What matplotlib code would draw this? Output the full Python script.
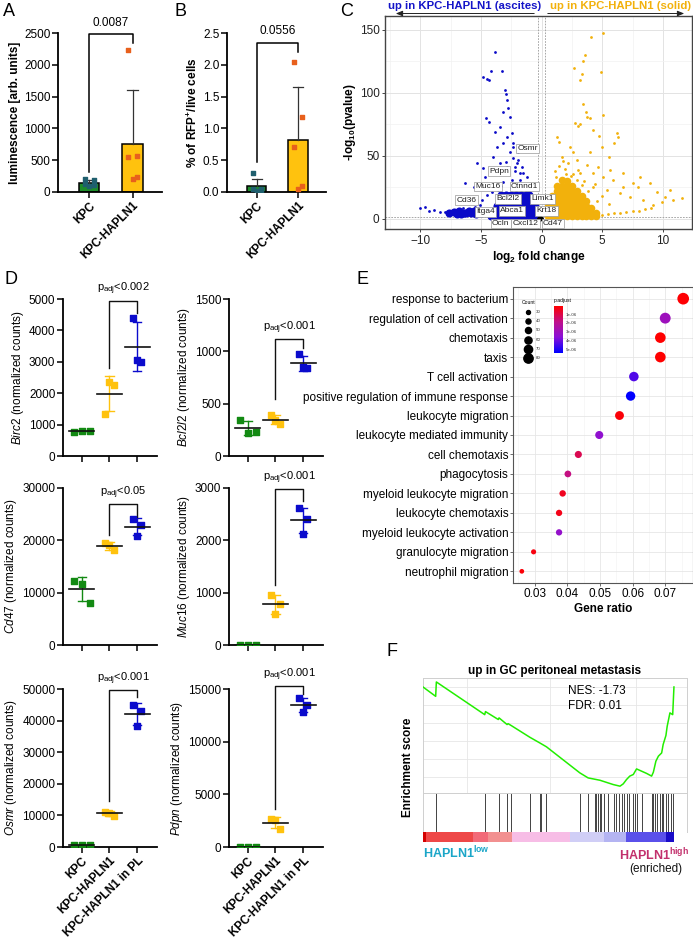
import numpy as np
import matplotlib
matplotlib.use("Agg")
import matplotlib.pyplot as plt
from matplotlib.colors import LinearSegmentedColormap, Normalize
from matplotlib.patches import FancyArrowPatch

plt.rcParams['font.family'] = ['Liberation Sans', 'DejaVu Sans']
plt.rcParams['mathtext.fontset'] = 'custom'
plt.rcParams['mathtext.rm'] = 'Liberation Sans'
plt.rcParams['mathtext.it'] = 'Liberation Sans:italic'
plt.rcParams['mathtext.bf'] = 'Liberation Sans:bold'
plt.rcParams['axes.linewidth'] = 1.0

W, H = 693, 940
FS = 8.5

# --- A: luminescence ---
a_groups = ["KPC", "KPC-HAPLN1"]
a_kpc = [200, 190, 120, 110, 90]
a_hap = [2230, 560, 550, 230, 200]
a_p = "0.0087"

# --- B: % RFP+ ---
b_kpc = [0.30, 0.05, 0.04, 0.03, 0.02]
b_hap = [2.04, 1.18, 0.71, 0.09, 0.05]
b_p = "0.0556"

# --- C: volcano ---
blue_x = [-3.84, -3.29, -4.19, -4.8, -4.47, -4.3, -3.01, -2.93, -4.6, -4.3, -2.87, -2.74, -3.15, -2.6,
          -3.42, -3.84, -2.46, -2.87, -3.15, -3.7, -2.32, -2.6, -1.91, -3.97, -5.29, -4.8, -3.42, -2.87,
          -2.19, -1.64, -1.5, -6.3, -5.6, -4.66, -3.97, -2.32, -2.05, -1.77, -2.74, -3.15, -2.46, -4.94,
          -4.53, -5.76, -10.0, -9.6, -9.3, -8.9, -8.4, -7.96, -7.27, -6.7, -6.45, -5.9, -5.5, -5.07,
          -2.1, -1.8, -1.3, -2.5, -3.6, -1.2, -2.2, -3.3, -1.6, -4.1, -2.9, -1.95, -2.35]
blue_y = [132.3, 117.7, 117.2, 112.4, 111.4, 110.3, 101.9, 99.2, 79.9, 77.2, 94.4, 87.8, 85.2, 81.2,
          73.3, 69.3, 68.0, 65.3, 60.0, 57.4, 60.0, 53.4, 53.4, 49.5, 44.2, 40.2, 44.2, 41.5,
          41.5, 41.5, 36.2, 28.3, 25.7, 33.6, 36.2, 48.1, 44.2, 36.2, 36.2, 29.6, 31.0, 15.1,
          19.0, 12.4, 8.5, 9.8, 6.6, 7.1, 5.8, 5.8, 6.3, 7.1, 8.5, 7.7, 9.3, 11.1,
          27.0, 30.5, 26.0, 24.5, 23.0, 33.0, 38.0, 26.5, 28.0, 21.0, 45.5, 47.0, 57.0]
# dense core of the ascites-up genes
blue_core_x = [-4.2, -3.8, -3.4, -3.0, -2.6, -2.2, -1.8, -1.4, -1.0, -0.6, -0.35,
               -4.0, -3.6, -3.2, -2.8, -2.4, -2.0, -1.6, -1.2, -0.8, -0.4,
               -3.7, -3.3, -2.9, -2.5, -2.1, -1.7, -1.3, -0.9, -0.5,
               -3.4, -3.0, -2.6, -2.2, -1.8, -1.4, -1.0,
               -3.3, -2.9, -2.5, -2.1, -1.7, -1.3, -1.0,
               -7.6, -7.2, -6.8, -6.4, -6.0, -5.6, -5.2, -4.8, -7.0, -6.6, -6.2, -5.8, -5.4, -5.0]
blue_core_y = [2, 2, 2, 2, 2, 2, 2, 2, 2, 2, 2,
               6, 6, 6, 6, 6, 6, 6, 6, 6, 6,
               10, 10, 10, 10, 10, 10, 10, 10, 10,
               14, 14, 14, 14, 14, 14, 14,
               19, 19, 19, 19, 19, 19, 19,
               5, 5.5, 6, 5, 6, 6.5, 6, 5.5, 4, 4, 4.5, 5, 4, 4.5]

yel_x = [5.1, 4.05, 3.59, 3.45, 2.71, 3.31, 4.9, 3.17, 3.4, 3.67, 5.1, 3.72, 4.0, 2.76, 3.17, 3.04,
         4.27, 6.2, 6.27, 4.77, 5.97, 1.25, 1.47, 4.96, 2.35, 2.62, 4.0, 5.59, 1.66, 2.9, 3.72, 4.68,
         5.64, 6.74, 8.1, 7.57, 8.94, 3.17, 4.27, 5.1, 5.92, 9.5, 10.6, 11.55, 10.2, 9.9, 9.2, 8.4,
         7.3, 6.47, 5.37, 4.27, 6.74, 7.97, 10.87, 4.5, 5.0, 5.5, 6.0, 6.5, 7.0, 7.5, 8.0, 8.5, 9.0,
         1.1, 1.4, 1.9, 2.2, 2.6, 3.0, 3.5, 4.4, 1.8, 2.4, 2.9, 3.8, 5.0, 5.6, 1.2, 2.0, 3.3, 4.6]
yel_y = [147.4, 144.7, 130.2, 124.9, 119.6, 115.1, 116.9, 110.3, 91.3, 85.2, 82.5, 81.2, 79.9, 76.5,
         75.4, 73.8, 70.6, 68.0, 65.3, 65.9, 60.0, 65.3, 61.4, 57.4, 57.4, 53.4, 53.4, 49.5, 49.5,
         46.8, 42.9, 41.5, 38.9, 36.2, 33.6, 28.8, 28.8, 36.2, 36.2, 33.6, 31.0, 21.7, 23.0, 16.4,
         17.7, 13.8, 11.1, 15.1, 17.7, 20.4, 23.0, 25.7, 25.7, 25.7, 15.1, 3.0, 3.5, 4.0, 4.5, 5.0,
         5.5, 6.0, 6.5, 7.5, 8.5, 38.0, 42.0, 40.0, 44.0, 36.0, 39.0, 30.0, 28.0, 46.0, 34.0, 31.0,
         22.0, 18.0, 12.0, 33.0, 36.0, 27.0, 14.0]
yel_core_x = [0.5, 0.5, 0.5,
              0.9, 0.9, 0.9, 0.9, 0.9,
              1.3, 1.3, 1.3, 1.3, 1.3, 1.3, 1.3,
              1.7, 1.7, 1.7, 1.7, 1.7, 1.7, 1.7, 1.7,
              2.1, 2.1, 2.1, 2.1, 2.1, 2.1, 2.1, 2.1,
              2.5, 2.5, 2.5, 2.5, 2.5, 2.5, 2.5,
              2.9, 2.9, 2.9, 2.9, 2.9, 2.9,
              3.3, 3.3, 3.3, 3.3, 3.3,
              3.7, 3.7, 3.7, 3.7,
              4.1, 4.1, 4.1, 4.5, 4.5]
yel_core_y = [2, 6, 10,
              2, 6, 10, 14, 18,
              2, 6, 10, 14, 18, 22, 26,
              2, 6, 10, 14, 18, 22, 26, 31,
              2, 6, 10, 14, 18, 22, 26, 30,
              2, 6, 10, 14, 18, 22, 26,
              2, 6, 10, 14, 18, 22,
              2, 6, 10, 14, 18,
              2, 6, 10, 14,
              2, 5, 9, 2, 5]
gene_labels = ["Osmr", "Pdpn", "Muc16", "Ctnnd1", "Cd36", "Bcl2l2", "Limk1", "Itga4", "Abca1",
               "Krt18", "Ocln", "Cxcl12", "Cd47"]
gene_lx = [-1.14, -3.5, -4.4, -1.4, -6.2, -2.74, 0.06, -4.65, -2.43, 0.43, -3.36, -1.32, 0.93]
gene_ly = [56, 38, 25.6, 25.6, 15, 15.9, 15.9, 5.6, 6.3, 6.3, -3.6, -3.6, -3.6]

# --- D: normalized counts, three replicates per group ---
d_groups = ["KPC", "KPC-HAPLN1", "KPC-HAPLN1 in PL"]
d_genes = ["Birc2", "Bcl2l2", "Cd47", "Muc16", "Osmr", "Pdpn"]
d_values = {
    "Birc2": [[780, 800, 810], [1350, 2250, 2350], [4380, 3000, 3050]],
    "Bcl2l2": [[340, 220, 230], [395, 305, 345], [970, 840, 850]],
    "Cd47": [[12300, 11600, 8000], [19400, 18100, 19200], [24000, 22900, 20800]],
    "Muc16": [[8, 8, 8], [960, 780, 590], [2610, 2400, 2130]],
    "Osmr": [[500, 600, 700], [11200, 9800, 10900], [45000, 43000, 38400]],
    "Pdpn": [[30, 30, 30], [2700, 1700, 2550], [14100, 13500, 12800]],
}
d_ymax = [5000, 1500, 30000, 3000, 50000, 15000]
d_ystep = [1000, 500, 10000, 1000, 10000, 5000]
d_padj = ["<0.002", "<0.001", "<0.05", "<0.001", "<0.001", "<0.001"]
d_bracket = [4950, 1120, 27000, 2980, 49700, 15300]
d_leg_lo = [2800, 540, 21000, 1150, 14500, 3600]
d_leg_hi = [4550, 1030, 24500, 2750, 47500, 14500]

# --- E: GO enrichment ---
go_terms = ["response to bacterium", "regulation of cell activation", "chemotaxis", "taxis",
            "T cell activation", "positive regulation of immune response", "leukocyte migration",
            "leukocyte mediated immunity", "cell chemotaxis", "phagocytosis",
            "myeloid leukocyte migration", "leukocyte chemotaxis", "myeloid leukocyte activation",
            "granulocyte migration", "neutrophil migration"]
go_ratio = [0.0755, 0.0700, 0.0685, 0.0685, 0.0604, 0.0594, 0.0560, 0.0498, 0.0434, 0.0402,
            0.0386, 0.0375, 0.0375, 0.0297, 0.0261]
go_count = [80, 74, 72, 72, 64, 63, 59, 53, 46, 43, 41, 40, 40, 31, 28]
go_padj = [2.5e-07, 3.0e-06, 2e-07, 2e-07, 4.3e-06, 5.3e-06, 3e-07, 3.4e-06, 1.2e-06, 1.8e-06,
           6e-07, 5e-07, 3.3e-06, 4e-07, 3e-07]

# --- F: GSEA running score ---
es_x = [0, 0.0505, 0.0532, 0.246, 0.249, 0.30, 0.303, 0.335, 0.339, 0.352, 0.426, 0.465, 0.492,
        0.625, 0.658, 0.705, 0.758, 0.785, 0.798, 0.811, 0.824, 0.838, 0.851, 0.891, 0.911, 0.918,
        0.928, 0.938, 0.951, 0.957, 0.968, 0.973, 0.984, 0.995, 1.0]
es_y = [0, -0.052, 0.028, -0.154, -0.137, -0.181, -0.172, -0.209, -0.204, -0.215, -0.28, -0.311,
        -0.333, -0.478, -0.506, -0.519, -0.543, -0.552, -0.539, -0.515, -0.496, -0.487, -0.456,
        -0.481, -0.496, -0.474, -0.413, -0.385, -0.367, -0.32, -0.27, -0.219, -0.144, -0.154, 0]
hits = [0.0505, 0.246, 0.303, 0.335, 0.352, 0.426, 0.465, 0.472, 0.492, 0.625, 0.658, 0.685,
        0.691, 0.698, 0.705, 0.711, 0.721, 0.738, 0.762, 0.771, 0.782, 0.791, 0.801, 0.811, 0.822,
        0.838, 0.844, 0.851, 0.871, 0.911, 0.918, 0.924, 0.934, 0.944, 0.951, 0.957, 0.967, 0.977,
        0.987, 0.997]
rank_edges = [0, 0.013, 0.2, 0.26, 0.353, 0.585, 0.72, 0.81, 0.97, 1.0]
rank_colors = ["#d40000", "#ee4848", "#f26a78", "#f29090", "#f7bde6", "#d0cef6", "#b4b4f2",
               "#5a50ea", "#1a0cc8"]
nes_text = "NES: -1.73\nFDR: 0.01"

fig = plt.figure(figsize=(6.93, 9.40), dpi=100)


def px_axes(x0, y0, x1, y1):
    return fig.add_axes([x0 / W, 1 - y1 / H, (x1 - x0) / W, (y1 - y0) / H])


def fpos(x, y):
    return x / W, 1 - y / H


def prism(ax):
    ax.spines['top'].set_visible(False)
    ax.spines['right'].set_visible(False)
    ax.spines['left'].set_linewidth(1.3)
    ax.spines['bottom'].set_linewidth(1.3)
    ax.tick_params(width=1.1, length=4, labelsize=FS, pad=1.5)


def bar_panel(ax, kpc, hap, ymax, ystep, ylabel, pval, br_y, leg_lo, leg_hi, txt_y, fmt):
    means = [np.mean(kpc), np.mean(hap)]
    sds = [np.std(kpc, ddof=1), np.std(hap, ddof=1)]
    ax.bar([0, 1], means, width=0.47, color=["#1e8c2a", "#ffc20e"], edgecolor="black", lw=1.1,
           zorder=2)
    for i, (m, s) in enumerate(zip(means, sds)):
        ax.plot([i, i], [m, m + s], color="#333333", lw=0.9, zorder=3)
        ax.plot([i - 0.12, i + 0.12], [m + s, m + s], color="#333333", lw=0.9, zorder=3)
    offs = [-0.1, 0.1, -0.1, 0.1, 0.0]
    ax.scatter([o for o in offs], kpc, marker="s", s=9, color="#1f5f6e", zorder=4)
    ax.scatter([1 + o for o in offs], hap, marker="s", s=9, color="#e8601c", zorder=4)
    ax.plot([0, 0, 1, 1], [leg_lo, br_y, br_y, leg_hi], color="black", lw=1.1, clip_on=False)
    ax.text(0.5, txt_y, pval, ha="center", va="center", fontsize=FS)
    ax.set_xlim(-0.72, 1.68)
    ax.set_ylim(0, ymax)
    ax.set_yticks(np.arange(0, ymax + ystep / 2, ystep))
    ax.yaxis.set_major_formatter(matplotlib.ticker.FormatStrFormatter(fmt))
    ax.set_xticks([0, 1])
    ax.set_xticklabels(a_groups, rotation=45, ha="right", rotation_mode="anchor",
                       fontweight="bold", fontsize=FS)
    ax.set_ylabel(ylabel, fontweight="bold", fontsize=FS, labelpad=2)
    prism(ax)


axA = px_axes(58, 33, 162, 192)
bar_panel(axA, a_kpc, a_hap, 2500, 500, "luminescence [arb. units]", a_p, 2490, 320, 2340, 2650,
          "%d")
axB = px_axes(227, 33, 326, 192)
bar_panel(axB, b_kpc, b_hap, 2.5, 0.5, "% of RFP$^{\\mathbf{+}}$/live cells", b_p, 2.34, 0.47, 2.2,
          2.53, "%.1f")

# --- C volcano ---
axC = px_axes(385, 16, 692, 229)
axC.set_facecolor("white")
for v in [-10, -5, 0, 5, 10]:
    axC.axvline(v, color="#e3e3e3", lw=0.7, zorder=0)
for v in [-12.5, -7.5, -2.5, 2.5, 7.5, 12.5]:
    axC.axvline(v, color="#f2f2f2", lw=0.5, zorder=0)
for v in [0, 50, 100, 150]:
    axC.axhline(v, color="#e3e3e3", lw=0.7, zorder=0)
for v in [25, 75, 125]:
    axC.axhline(v, color="#f2f2f2", lw=0.5, zorder=0)
axC.axvline(-0.26, color="#999999", lw=0.6, ls=(0, (2, 1.5)), zorder=1)
axC.axvline(0.26, color="#999999", lw=0.6, ls=(0, (2, 1.5)), zorder=1)
axC.axhline(1.6, color="#999999", lw=0.6, ls=(0, (2, 1.5)), zorder=1)
axC.scatter(blue_core_x, blue_core_y, s=34, color="#0a0ac8", lw=0, zorder=2)
axC.scatter(yel_core_x, yel_core_y, s=30, color="#f2b10c", lw=0, zorder=2)
axC.scatter(blue_x, blue_y, s=4, color="#0a0ac8", lw=0, zorder=2)
axC.scatter(yel_x, yel_y, s=4, color="#f2b10c", lw=0, zorder=2)
axC.scatter([-0.1], [0.8], s=8, marker="D", color="black", zorder=3)
for g, lx, ly in zip(gene_labels, gene_lx, gene_ly):
    axC.text(lx, ly, g, fontsize=6, ha="center", va="center", color="#222222", zorder=5,
             bbox=dict(boxstyle="square,pad=0.15", fc="white", ec="#999999", lw=0.5))
axC.set_xlim(-12.9, 12.4)
axC.set_ylim(-8, 161)
axC.set_xticks([-10, -5, 0, 5, 10])
axC.set_yticks([0, 50, 100, 150])
for s in axC.spines.values():
    s.set_color("#444444")
    s.set_linewidth(1.0)
axC.tick_params(labelsize=FS, length=2.5, width=0.7, color="#444444", labelcolor="#222222",
                pad=1.5)
axC.set_xlabel("log$_\\mathbf{2}$ fold change", fontweight="bold", fontsize=FS, labelpad=2)
axC.set_ylabel("-log$_\\mathbf{10}$(pvalue)", fontweight="bold", fontsize=FS, labelpad=1)

fig.text(*fpos(465, 6), "up in KPC-HAPLN1 (ascites)", color="#1414c8", fontweight="bold",
         fontsize=8.2, ha="center", va="center")
fig.text(*fpos(621, 6), "up in KPC-HAPLN1 (solid)", color="#f2b10c", fontweight="bold",
         fontsize=8.2, ha="center", va="center")
for xs, xe in [(537, 393), (545, 687)]:
    fig.add_artist(FancyArrowPatch(fpos(xs, 13.5), fpos(xe, 13.5), transform=fig.transFigure,
                                   arrowstyle="-|>,head_length=4,head_width=1.6", color="#222222",
                                   lw=0.7))

# --- D dot plots ---
d_boxes = [(63, 299, 157, 456), (229, 299, 323, 456), (63, 488, 157, 645), (229, 488, 323, 645),
           (63, 689, 157, 847), (229, 689, 323, 847)]
d_colors = ["#138a13", "#ffc20e", "#0b0bcc"]
jit = [[-0.3, 0.0, 0.3], [-0.15, 0.15, 0.0], [-0.15, 0.15, 0.0]]
for k, gene in enumerate(d_genes):
    ax = px_axes(*d_boxes[k])
    vals = d_values[gene]
    for i, grp in enumerate(vals):
        m = np.mean(grp)
        sd = np.std(grp, ddof=1)
        ax.plot([i, i], [m - sd, m + sd], color=d_colors[i], lw=1.0, zorder=2)
        ax.plot([i - 0.15, i + 0.15], [m + sd, m + sd], color=d_colors[i], lw=1.0, zorder=2)
        ax.plot([i - 0.15, i + 0.15], [m - sd, m - sd], color=d_colors[i], lw=1.0, zorder=2)
        ax.plot([i - 0.45, i + 0.45], [m, m], color="#111111", lw=1.2, zorder=4)
        jj = jit[0] if gene in ("Birc2", "Muc16", "Osmr", "Pdpn") and i == 0 else jit[i]
        ax.scatter([i + j for j in jj], grp, marker="s", s=14, color=d_colors[i], zorder=3)
    ymax = d_ymax[k]
    ax.plot([1, 1, 2, 2], [d_leg_lo[k], d_bracket[k], d_bracket[k], d_leg_hi[k]], color="#111111",
            lw=1.0, clip_on=False)
    ax.text(1.5, d_bracket[k] + ymax * 0.02, "p$_{\\mathrm{adj}}$" + d_padj[k], ha="center",
            va="bottom", fontsize=8)
    ax.set_xlim(-0.68, 2.72)
    ax.set_ylim(0, ymax)
    ax.set_yticks(np.arange(0, ymax + 1, d_ystep[k]))
    ax.set_xticks([0, 1, 2])
    if k >= 4:
        ax.set_xticklabels(d_groups, rotation=45, ha="right", rotation_mode="anchor",
                           fontweight="bold", fontsize=FS)
    else:
        ax.set_xticklabels([])
    ax.set_ylabel("$\\it{" + gene + "}$ (normalized counts)", fontsize=FS, labelpad=2)
    prism(ax)

# --- E GO dot plot ---
axE = px_axes(513, 287, 693, 583)
cmap = LinearSegmentedColormap.from_list("padj", ["#ff0000", "#c0108a", "#8a10d8", "#0000ff"])
norm = Normalize(vmin=2e-07, vmax=5.3e-06)
ypos = np.arange(len(go_terms))[::-1]
sizes = [(3.4 + (c - 28) * 5.0 / 52) ** 2 for c in go_count]
axE.scatter(go_ratio, ypos, s=sizes, c=go_padj, cmap=cmap, norm=norm, zorder=3, lw=0)
axE.set_yticks(ypos)
axE.set_yticklabels(go_terms, fontsize=FS)
axE.set_xlim(0.0234, 0.0785)
axE.set_ylim(-0.6, len(go_terms) - 0.4)
axE.set_xticks([0.03, 0.04, 0.05, 0.06, 0.07])
axE.set_xticks([0.025, 0.035, 0.045, 0.055, 0.065, 0.075], minor=True)
axE.grid(True, which="major", color="#e6e6e6", lw=0.6, zorder=0)
axE.grid(True, which="minor", axis="x", color="#f2f2f2", lw=0.4, zorder=0)
axE.set_axisbelow(True)
for s in axE.spines.values():
    s.set_color("#555555")
    s.set_linewidth(0.8)
axE.tick_params(axis="x", labelsize=FS, length=2, width=0.6, color="#555555", pad=1.5)
axE.tick_params(axis="y", length=2, width=0.6, color="#555555", pad=1.5)
axE.tick_params(which="minor", length=0)
axE.set_xlabel("Gene ratio", fontweight="bold", fontsize=FS, labelpad=2)

# legend: Count
fig.text(*fpos(529, 302), "Count", fontsize=3.6, ha="center", va="center")
leg_counts = [30, 40, 50, 60, 70, 80]
for j, c in enumerate(leg_counts):
    lx, ly = fpos(528, 312 + j * 9.2)
    d = (3.4 + (c - 28) * 5.0 / 52) * 0.8
    fig.add_artist(plt.Line2D([lx], [ly], marker="o", ms=d, color="black", lw=0,
                              transform=fig.transFigure))
    fig.text(lx + 8 / W, ly, str(c), fontsize=3.2, va="center", color="#333333")
# legend: p.adjust
fig.text(*fpos(554, 301), "p.adjust", fontsize=3.6, ha="left", va="center")
cax = px_axes(554, 306, 563, 353)
cax.imshow(np.linspace(0, 1, 100)[:, None], aspect="auto", cmap=cmap, extent=[0, 1, 1, 0])
cax.set_xticks([])
cax.set_yticks([])
for s in cax.spines.values():
    s.set_visible(False)
for j, t in enumerate(["1e-06", "2e-06", "3e-06", "4e-06", "5e-06"]):
    fig.text(*fpos(566, 314.5 + j * 8.8), t, fontsize=3.2, va="center", color="#333333")

# --- F GSEA ---
axF = px_axes(423, 678, 687, 793)
axF.plot(es_x, es_y, color="#22ee00", lw=1.1, zorder=3)
axF.set_xlim(0, 1.052)
axF.set_ylim(-0.59, 0.05)
axF.set_yticks([0, -0.1, -0.2, -0.3, -0.4, -0.5])
axF.set_xticks([0.174, 0.508, 0.848])
axF.grid(True, color="#e6e6e6", lw=0.6)
axF.tick_params(length=0, labelleft=False, labelbottom=False)
for s in axF.spines.values():
    s.set_color("#cfcfcf")
    s.set_linewidth(0.7)
axF.set_ylabel("Enrichment score", fontweight="bold", fontsize=FS, labelpad=4)
axF.yaxis.set_label_coords(-0.035, 0.22)
axF.set_title("up in GC peritoneal metastasis", fontweight="bold", fontsize=FS, pad=3)
axF.text(0.55, 0.82, nes_text, transform=axF.transAxes, fontsize=FS, va="center",
         linespacing=1.35)

axH = px_axes(423, 793, 687, 832)
axH.vlines(hits, 0, 1, color="#222222", lw=0.7, alpha=0.85)
axH.set_xlim(0, 1.052)
axH.set_ylim(0, 1)
axH.set_xticks([])
axH.set_yticks([])
for s in axH.spines.values():
    s.set_color("#cfcfcf")
    s.set_linewidth(0.7)

axR = px_axes(423, 832, 687, 842)
for e0, e1, col in zip(rank_edges[:-1], rank_edges[1:], rank_colors):
    axR.axvspan(e0, e1, color=col, lw=0)
axR.set_xlim(0, 1.052)
axR.set_xticks([])
axR.set_yticks([])
for s in axR.spines.values():
    s.set_visible(False)

fig.text(*fpos(423, 853), "HAPLN1$^{\\mathbf{low}}$", color="#1aa6c8", fontweight="bold",
         fontsize=9, ha="left", va="center")
fig.text(*fpos(689, 855), "HAPLN1$^{\\mathbf{high}}$", color="#c2306c", fontweight="bold",
         fontsize=9, ha="right", va="center")
fig.text(*fpos(656, 869), "(enriched)", color="#111111", fontsize=FS, ha="center", va="center")

# --- panel letters ---
for lab, x, y in [("A", 3, 11), ("B", 175, 11), ("C", 340, 11), ("D", 4, 279), ("E", 357, 279),
                  ("F", 386, 652)]:
    fig.text(*fpos(x, y), lab, fontsize=13, ha="left", va="center")

fig.savefig("out.png", dpi=100)
